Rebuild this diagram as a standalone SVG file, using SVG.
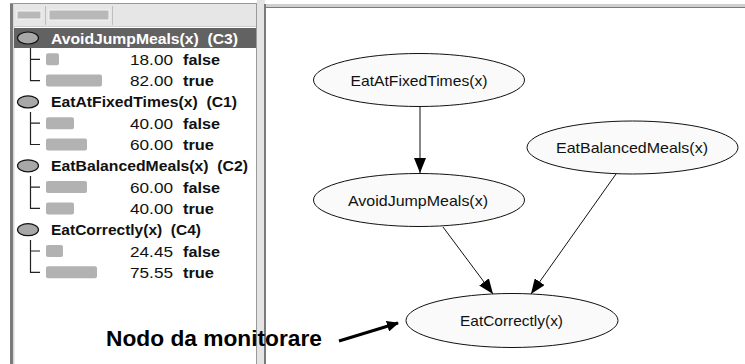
<svg xmlns="http://www.w3.org/2000/svg" width="745" height="364" viewBox="0 0 745 364">
  <style>
    .hdr { font-family: "Liberation Sans", Arial, sans-serif; font-size: 15px; font-weight: bold; fill: #111; white-space: pre; }
    .hdr.sel { fill: #fff; }
    .num { font-family: "Liberation Sans", Arial, sans-serif; font-size: 15px; fill: #111; }
    .st { font-family: "Liberation Sans", Arial, sans-serif; font-size: 15px; font-weight: bold; fill: #111; }
    .icon { fill: #a8a8a8; stroke: #111; stroke-width: 1.2; }
    .bar { fill: #b2b2b2; }
    .tree { stroke: #222; stroke-width: 1.2; fill: none; }
    .node ellipse { fill: #fafafa; stroke: #111; stroke-width: 1; }
    .node text { font-family: "Liberation Sans", Arial, sans-serif; font-size: 15px; fill: #111; text-anchor: middle; }
    .edge { stroke: #111; stroke-width: 1; fill: none; }
    .note { font-family: "Liberation Sans", Arial, sans-serif; font-size: 22px; font-weight: bold; fill: #000; }
  </style>
  <defs>
    <marker id="arrow" markerUnits="userSpaceOnUse" markerWidth="15" markerHeight="12" refX="15" refY="6" orient="auto">
      <path d="M0,0 L15,6 L0,12 z" fill="#000"/>
    </marker>
    <marker id="arrowBold" markerUnits="userSpaceOnUse" markerWidth="12" markerHeight="11" refX="11" refY="5.5" orient="auto">
      <path d="M0,0 L12,5.5 L0,11 z" fill="#000"/>
    </marker>
  </defs>

  <rect width="745" height="364" fill="#fff"/>

  <!-- left tree panel frame -->
  <g id="tree-panel">
    <rect x="10" y="3" width="247" height="361" fill="#fff"/>
    <rect x="10" y="3" width="3" height="361" fill="#7a7a7a"/>
    <rect x="13" y="3" width="1.5" height="361" fill="#d8d8d8"/>
    <rect x="14" y="4" width="243" height="22" fill="#e6e6e6"/>
    <line x1="10" y1="3.5" x2="257" y2="3.5" stroke="#999"/>
    <line x1="14" y1="26.5" x2="257" y2="26.5" stroke="#cfcfcf"/>
    <!-- toolbar buttons -->
    <rect x="17" y="11" width="24" height="8" fill="#b8b8b8" stroke="#f4f4f4" stroke-width="1"/>
    <line x1="45.5" y1="6" x2="45.5" y2="25" stroke="#bdbdbd"/>
    <rect x="49" y="10" width="60" height="10" fill="#b8b8b8" stroke="#f4f4f4" stroke-width="1"/>
    <line x1="112.5" y1="6" x2="112.5" y2="25" stroke="#bdbdbd"/>
    <line x1="256.5" y1="3" x2="256.5" y2="364" stroke="#9a9a9a"/>
  </g>

  <!-- splitter and graph panel frame -->
  <g id="graph-panel">
    <rect x="257" y="0" width="8" height="364" fill="#e4e4e4"/>
    <rect x="265" y="4" width="480" height="4" fill="#cfcfcf"/>
    <line x1="265" y1="7.5" x2="745" y2="7.5" stroke="#7a7a7a"/>
    <rect x="264" y="4" width="2" height="360" fill="#7a7a7a"/>
    <rect x="266" y="8" width="479" height="356" fill="#fff"/>
  </g>

  <!-- tree entries -->
  <g id="tree-AvoidJumpMeals">
    <rect x="14" y="28" width="242" height="20" fill="#626262"/>
    <ellipse class="icon" cx="28" cy="38" rx="10.5" ry="6"/>
    <text class="hdr sel" x="51" y="43.5" textLength="187" lengthAdjust="spacingAndGlyphs">AvoidJumpMeals(x)  (C3)</text>
    <path class="tree" d="M30.5,48 V80.6 H40 M30.5,59.3 H40"/>
    <rect class="bar" x="46" y="53.3" width="13" height="12" rx="2"/>
    <text class="num" x="130" y="64.8" textLength="43" lengthAdjust="spacingAndGlyphs">18.00</text>
    <text class="st" x="183" y="64.8" textLength="37" lengthAdjust="spacingAndGlyphs">false</text>
    <rect class="bar" x="46" y="74.6" width="56" height="12" rx="2"/>
    <text class="num" x="130" y="86.1" textLength="43" lengthAdjust="spacingAndGlyphs">82.00</text>
    <text class="st" x="183" y="86.1" textLength="31" lengthAdjust="spacingAndGlyphs">true</text>
  </g>

  <g id="tree-EatAtFixedTimes">
    <ellipse class="icon" cx="28" cy="101.9" rx="10.5" ry="6"/>
    <text class="hdr" x="51" y="107.4" textLength="186" lengthAdjust="spacingAndGlyphs">EatAtFixedTimes(x)  (C1)</text>
    <path class="tree" d="M30.5,112 V144.5 H40 M30.5,123.2 H40"/>
    <rect class="bar" x="46" y="117.2" width="28" height="12" rx="2"/>
    <text class="num" x="130" y="128.7" textLength="43" lengthAdjust="spacingAndGlyphs">40.00</text>
    <text class="st" x="183" y="128.7" textLength="37" lengthAdjust="spacingAndGlyphs">false</text>
    <rect class="bar" x="46" y="138.5" width="41" height="12" rx="2"/>
    <text class="num" x="130" y="150" textLength="43" lengthAdjust="spacingAndGlyphs">60.00</text>
    <text class="st" x="183" y="150" textLength="31" lengthAdjust="spacingAndGlyphs">true</text>
  </g>

  <g id="tree-EatBalancedMeals">
    <ellipse class="icon" cx="28" cy="165.8" rx="10.5" ry="6"/>
    <text class="hdr" x="51" y="171.3" textLength="197" lengthAdjust="spacingAndGlyphs">EatBalancedMeals(x)  (C2)</text>
    <path class="tree" d="M30.5,176 V208.4 H40 M30.5,187.1 H40"/>
    <rect class="bar" x="46" y="181.1" width="41" height="12" rx="2"/>
    <text class="num" x="130" y="192.6" textLength="43" lengthAdjust="spacingAndGlyphs">60.00</text>
    <text class="st" x="183" y="192.6" textLength="37" lengthAdjust="spacingAndGlyphs">false</text>
    <rect class="bar" x="46" y="202.4" width="28" height="12" rx="2"/>
    <text class="num" x="130" y="213.9" textLength="43" lengthAdjust="spacingAndGlyphs">40.00</text>
    <text class="st" x="183" y="213.9" textLength="31" lengthAdjust="spacingAndGlyphs">true</text>
  </g>

  <g id="tree-EatCorrectly">
    <ellipse class="icon" cx="28" cy="229.7" rx="10.5" ry="6"/>
    <text class="hdr" x="51" y="235.2" textLength="150" lengthAdjust="spacingAndGlyphs">EatCorrectly(x)  (C4)</text>
    <path class="tree" d="M30.5,240 V272.3 H40 M30.5,251 H40"/>
    <rect class="bar" x="46" y="245" width="17" height="12" rx="2"/>
    <text class="num" x="130" y="256.5" textLength="43" lengthAdjust="spacingAndGlyphs">24.45</text>
    <text class="st" x="183" y="256.5" textLength="37" lengthAdjust="spacingAndGlyphs">false</text>
    <rect class="bar" x="46" y="266.3" width="51" height="12" rx="2"/>
    <text class="num" x="130" y="277.8" textLength="43" lengthAdjust="spacingAndGlyphs">75.55</text>
    <text class="st" x="183" y="277.8" textLength="31" lengthAdjust="spacingAndGlyphs">true</text>
  </g>

  <!-- network connectors -->
  <g id="connectors">
    <line class="edge" x1="420" y1="107" x2="420" y2="173" marker-end="url(#arrow)"/>
    <line class="edge" x1="443" y1="227" x2="493" y2="294" marker-end="url(#arrow)"/>
    <line class="edge" x1="616" y1="174" x2="531" y2="294" marker-end="url(#arrow)"/>
  </g>

  <!-- network nodes -->
  <g id="node-EatAtFixedTimes" class="node">
    <ellipse cx="419" cy="80" rx="105.5" ry="26.5"/>
    <text x="419" y="85.5" textLength="137" lengthAdjust="spacingAndGlyphs">EatAtFixedTimes(x)</text>
  </g>
  <g id="node-AvoidJumpMeals" class="node">
    <ellipse cx="419" cy="200" rx="105.5" ry="26.5"/>
    <text x="418" y="205.5" textLength="140" lengthAdjust="spacingAndGlyphs">AvoidJumpMeals(x)</text>
  </g>
  <g id="node-EatBalancedMeals" class="node">
    <ellipse cx="632.5" cy="147.5" rx="105.5" ry="26.5"/>
    <text x="632" y="153" textLength="152" lengthAdjust="spacingAndGlyphs">EatBalancedMeals(x)</text>
  </g>
  <g id="node-EatCorrectly" class="node">
    <ellipse cx="512" cy="320.5" rx="106" ry="27"/>
    <text x="511.5" y="326" textLength="103" lengthAdjust="spacingAndGlyphs">EatCorrectly(x)</text>
  </g>

  <!-- annotation -->
  <g id="annotation">
    <text class="note" x="106" y="346" textLength="216" lengthAdjust="spacingAndGlyphs">Nodo da monitorare</text>
    <line x1="339" y1="341" x2="398" y2="323" stroke="#000" stroke-width="3" marker-end="url(#arrowBold)"/>
  </g>
</svg>
